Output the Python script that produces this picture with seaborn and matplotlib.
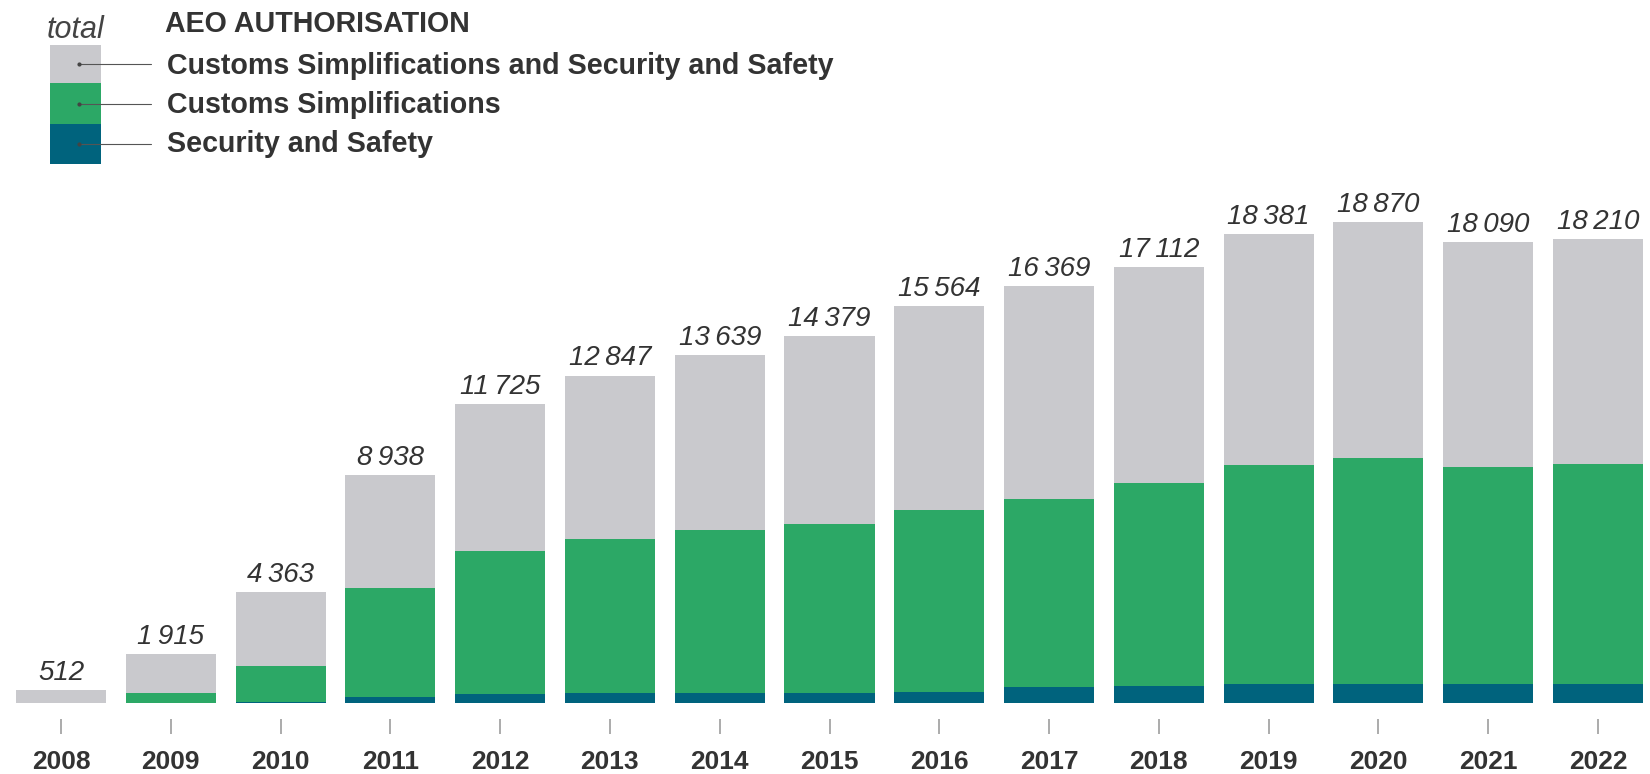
import matplotlib.pyplot as plt
import seaborn as sns
import pandas as pd
from matplotlib.patches import Rectangle
from matplotlib.lines import Line2D

# data
years = ['2008', '2009', '2010', '2011', '2012', '2013', '2014', '2015',
         '2016', '2017', '2018', '2019', '2020', '2021', '2022']
total = [512, 1915, 4363, 8938, 11725, 12847, 13639, 14379,
         15564, 16369, 17112, 18381, 18870, 18090, 18210]
customs_simpl = [0, 405, 1400, 4250, 5620, 6025, 6378, 6607,
                 7134, 7370, 7958, 8585, 8859, 8479, 8636]
security_safety = [0, 10, 63, 259, 353, 404, 404, 410,
                   459, 639, 666, 772, 772, 772, 745]

legend_labels = ['Customs Simplifications and Security and Safety',
                 'Customs Simplifications',
                 'Security and Safety']

GREY = '#c9c9cd'
GREEN = '#2ca866'
BLUE = '#00637d'
TXT = '#333333'

df = pd.DataFrame({'year': years, 'total': total,
                   'cs': customs_simpl, 'ss': security_safety})
df['cs_top'] = df['cs'] + df['ss']

sns.set_style('white')
plt.rcParams['font.family'] = ['Liberation Sans', 'DejaVu Sans']

W, H = 1650, 774
fig = plt.figure(figsize=(W / 100, H / 100), dpi=100)

base = 703.3
ax = fig.add_axes([0, (H - base) / H, 1, base / H])

# stacked bars: total in grey, then green (cs + ss), then blue on top of each other
sns.barplot(data=df, x='year', y='total', order=years, color=GREY,
            saturation=1, width=0.82, linewidth=0, errorbar=None, ax=ax)
sns.barplot(data=df, x='year', y='cs_top', order=years, color=GREEN,
            saturation=1, width=0.82, linewidth=0, errorbar=None, ax=ax)
sns.barplot(data=df, x='year', y='ss', order=years, color=BLUE,
            saturation=1, width=0.82, linewidth=0, errorbar=None, ax=ax)

labels = [f'{v:,}'.replace(',', '\u2009') for v in total]
ax.bar_label(ax.containers[0], labels=labels, padding=3, fontsize=20,
             fontstyle='italic', color=TXT)

spacing = (1598 - 61) / 14
ax.set_xlim(-61 / spacing, 14 + (W - 1598) / spacing)
ax.set_ylim(0, base * 39.2)
ax.set_xlabel('')
ax.set_ylabel('')
ax.set_yticks([])
for s in ['left', 'right', 'top']:
    ax.spines[s].set_visible(False)
ax.spines['bottom'].set_position(('outward', 11))
ax.spines['bottom'].set_visible(False)
ax.tick_params(axis='x', bottom=True, length=10.5, width=1.3, color='#a5a5a5',
               pad=12, labelsize=19, labelcolor=TXT)
for lab in ax.get_xticklabels():
    lab.set_fontweight('bold')

# legend block, top left
def fx(x):
    return x / W


def fy(y):
    return 1 - y / H


fig.text(fx(47), fy(38), 'total', fontsize=22, style='italic', color='#444444',
         va='baseline')
fig.text(fx(165), fy(32), 'AEO AUTHORISATION', fontsize=20.6, weight='bold',
         color=TXT, va='baseline')

rows = [(45, 83, GREY), (83, 124, GREEN), (124, 164, BLUE)]
baselines = [74, 113, 152]
for (y0, y1, c), lab, bl in zip(rows, legend_labels, baselines):
    fig.add_artist(Rectangle((fx(50), fy(y1)), fx(101) - fx(50), fy(y0) - fy(y1),
                             transform=fig.transFigure, color=c, lw=0))
    yc = fy((y0 + y1) / 2)
    fig.add_artist(Line2D([fx(79), fx(151)], [yc, yc], transform=fig.transFigure,
                          color='#555555', lw=0.8))
    fig.add_artist(Line2D([fx(79)], [yc], transform=fig.transFigure, marker='o',
                          markersize=2, color='#444444', lw=0))
    fig.text(fx(167), fy(bl), lab, fontsize=20.6, weight='bold', color=TXT,
             va='baseline')

fig.savefig('out.png', dpi=100)
